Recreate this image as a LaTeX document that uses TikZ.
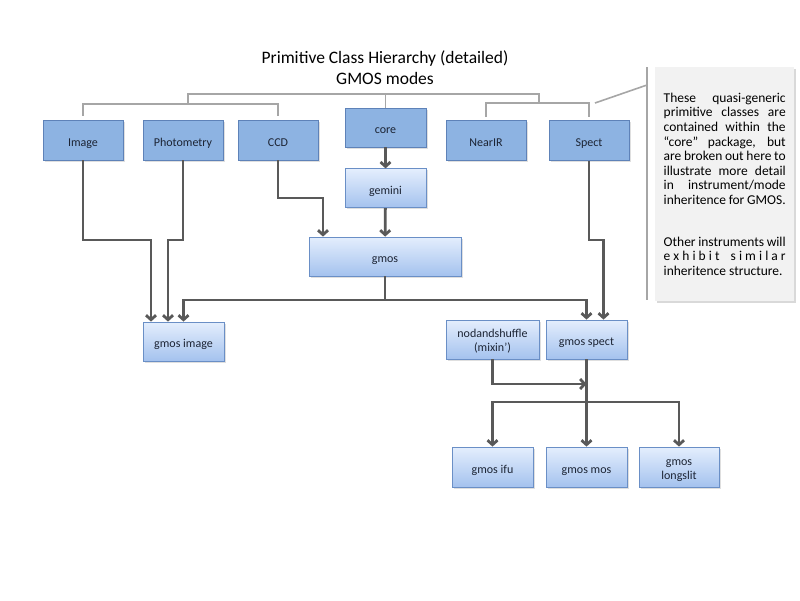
\documentclass[tikz,border=0pt]{standalone}
\usepackage{fontspec}
\setmainfont{Carlito}
\usetikzlibrary{positioning,arrows.meta,shadows}
\definecolor{linkgray}{HTML}{595959}
\definecolor{bracegray}{HTML}{A6A6A6}
\definecolor{topfill}{HTML}{8DB3E2}
\definecolor{topedge}{HTML}{5E82B8}
\definecolor{subtop}{HTML}{E4EEFD}
\definecolor{subbottom}{HTML}{A4C2EE}
\definecolor{subedge}{HTML}{6A8FC6}
\definecolor{notefill}{HTML}{F2F2F2}
\definecolor{boxtext}{HTML}{1C2434}

\begin{document}
\begin{tikzpicture}[x=1pt,y=-1pt,
	every node/.style={font=\fontsize{12}{14}\selectfont,text=boxtext},
	topbox/.style={rectangle,draw=topedge,fill=topfill,line width=0.8pt,inner sep=0pt,
		minimum width=80pt,minimum height=40pt,align=center,text height=12pt,text depth=0pt,
		drop shadow={opacity=0.25,shadow xshift=1.5pt,shadow yshift=-1.5pt}},
	subbox/.style={topbox,draw=subedge,top color=subtop,bottom color=subbottom},
	twoline/.style={text height=24pt},
	link/.style={draw=linkgray,line width=2.8pt,-{Straight Barb[length=4.5pt,width=10pt]}},
	brace/.style={draw=bracegray,line width=1.6pt}]
	%% page
	\useasboundingbox (0,0) rectangle (800,600);

	\def\rowA{240} % upper bend level
	\def\rowB{300} % gmos fan out
	\def\rowC{384} % mixin join
	\def\rowD{402} % gmos spect fan out

	%% title
	\node[font=\fontsize{17.5}{21}\selectfont,text=black,align=center] (title) at (385,67.5)
		{Primitive Class Hierarchy (detailed)\\GMOS modes};

	%% primitive classes
	\node[topbox] (image) at (83,140) {Image};
	\node[topbox] (photometry) at (183,140) {Photometry};
	\node[topbox] (ccd) at (278,140) {CCD};
	\node[topbox,minimum width=81pt,minimum height=39pt] (core) at (385.5,127.5) {core};
	\node[topbox] (nearir) at (486,140.5) {NearIR};
	\node[topbox] (spect) at (589,140.5) {Spect};

	%% gmos classes
	\node[subbox,minimum width=81pt,minimum height=39pt,below=21pt of core] (gemini) {gemini};
	\node[subbox,minimum width=152pt,minimum height=39pt] (gmos) at (385,256.5) {gmos};
	\node[subbox,minimum width=81pt,minimum height=39pt] (gmosimage) at (183.5,341.5) {gmos image};
	\node[subbox,twoline,minimum width=93pt,minimum height=39pt] (nodshuffle) at (492.5,339.5) {nodandshuffle\\(mixin’)};
	\node[subbox,minimum width=81pt,minimum height=39pt] (gmosspect) at (586.5,339.5) {gmos spect};
	\node[subbox,minimum width=81pt] (gmosifu) at (492.5,467) {gmos ifu};
	\node[subbox,minimum width=81pt] (gmosmos) at (586.5,467) {gmos mos};
	\node[subbox,twoline] (gmoslongslit) at (679,467) {gmos\\longslit};

	%% grouping brackets
	\draw[brace] ([yshift=4pt]image.north) -- (image.north |- 0,104) -- (ccd.north |- 0,104) -- ([yshift=4pt]ccd.north);
	\draw[brace] ([yshift=3pt]nearir.north) -- (nearir.north |- 0,103) -- (spect.north |- 0,103) -- ([yshift=3pt]spect.north);
	\draw[brace] (188,104) -- (188,94) -- (539,94) -- (539,103);
	\draw[brace] (core.north) -- (core.north |- 0,94);
	\draw[brace] (595,103) -- (647,85);
	\draw[brace] (647,67) -- (647,300);

	%% note
	\node[rectangle,fill=notefill,anchor=north west,inner xsep=8.5pt,inner ysep=0pt,
		minimum width=139pt,minimum height=234pt,text width=122pt,align=justify,
		text=black,font=\fontsize{13.5}{14.6}\selectfont,
		drop shadow={opacity=0.3,shadow xshift=1.5pt,shadow yshift=-1.5pt}] (note) at (655,67)
		{These quasi-generic\linebreak primitive classes are\linebreak contained within the\linebreak
		“core” package, but\linebreak are broken out here to\linebreak illustrate more detail\linebreak
		in instrument/mode\linebreak inheritence for GMOS.\par\vspace{27pt}
		Other instruments will\linebreak
		e\hfill x\hfill h\hfill i\hfill b\hfill i\hfill t\hfill\hspace{5pt}\hfill s\hfill i\hfill m\hfill i\hfill l\hfill a\hfill r\linebreak
		inheritence structure.};

	%% inheritance
	\draw[link] (core) -- (gemini);
	\draw[link] (gemini) -- (gmos);
	\draw[link] (ccd.south) -- (ccd.south |- 0,198) -| ([xshift=-62pt]gmos.north);
	\draw[link] (image.south) -- (image.south |- 0,\rowA) -| ([xshift=-32.5pt]gmosimage.north);
	\draw[link] (photometry.south) -- (photometry.south |- 0,\rowA) -| ([xshift=-15.5pt]gmosimage.north);
	\draw[link] (gmos.south) -- (gmos.south |- 0,\rowB) -| (gmosimage.north);
	\draw[link] (gmos.south |- 0,\rowB) -| (gmosspect.north);
	\draw[link] (spect.south) -- (spect.south |- 0,\rowA) -| ([xshift=17pt]gmosspect.north);
	\draw[link] (nodshuffle.south) |- (gmosspect.south |- 0,\rowC);
	\draw[link] (gmosspect) -- (gmosmos);
	\draw[link] (gmosspect.south |- 0,\rowD) -| (gmosifu.north);
	\draw[link] (gmosspect.south |- 0,\rowD) -| (gmoslongslit.north);

\end{tikzpicture}
\end{document}
